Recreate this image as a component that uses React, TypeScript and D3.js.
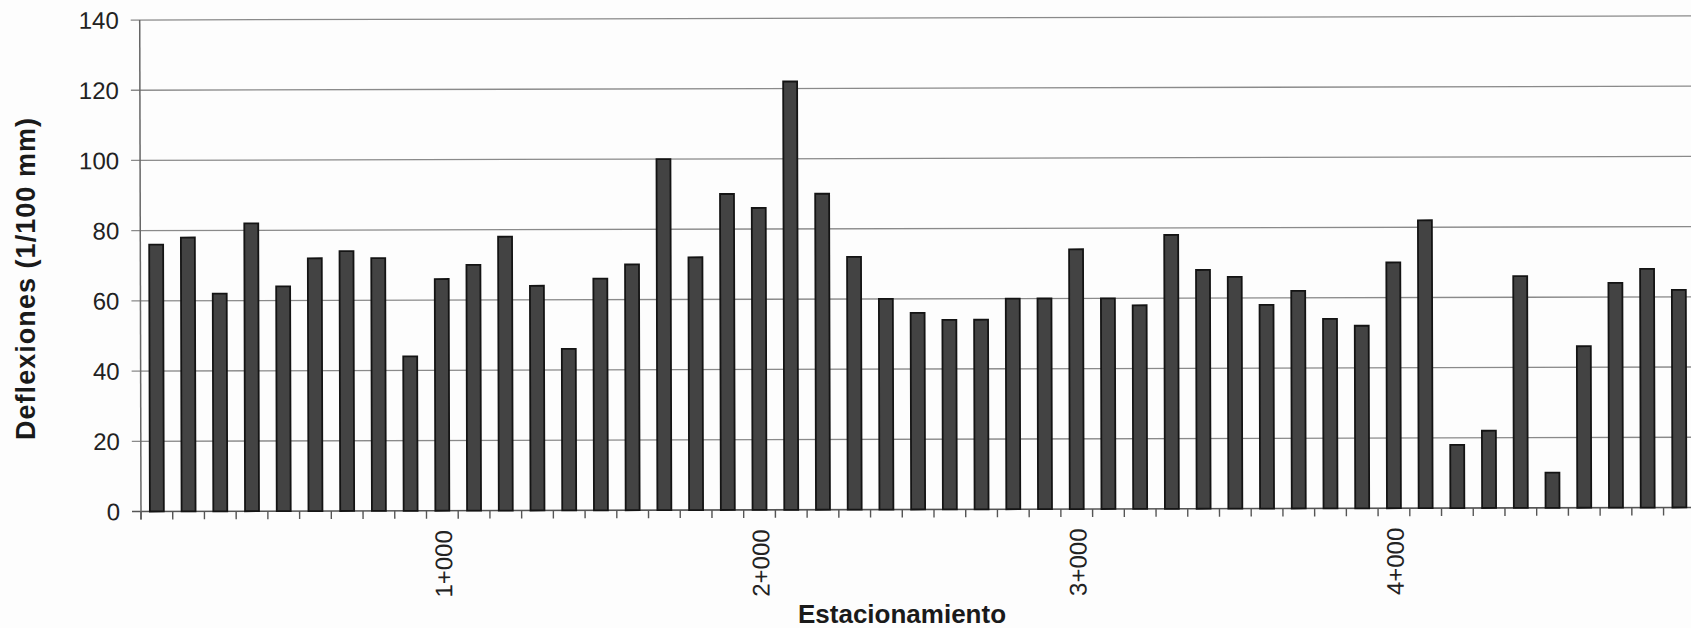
import React from "react";
import * as d3 from "d3";

// Deflection readings per station (1/100 mm), every 100 m starting at 0+100
const stations: string[] = Array.from({ length: 49 }, (_, i) => {
  const m = (i + 1) * 100;
  return `${Math.floor(m / 1000)}+${String(m % 1000).padStart(3, "0")}`;
});
const deflections: number[] = [
  76, 78, 62, 82, 64, 72, 74, 72, 44, 66,
  70, 78, 64, 46, 66, 70, 100, 72, 90, 86,
  122, 90, 72, 60, 56, 54, 54, 60, 60, 74,
  60, 58, 78, 68, 66, 58, 62, 54, 52, 70,
  82, 18, 22, 66, 10, 46, 64, 68, 62,
];
const yTicks: number[] = [0, 20, 40, 60, 80, 100, 120, 140];
const labelledStations: string[] = ["1+000", "2+000", "3+000", "4+000"];

const W = 1691;
const H = 628;
const left = 141;
const bottom = 511.5;
const top = 20;
const step = 31.72;

export default function App() {
  const x = d3
    .scaleBand<string>()
    .domain(stations)
    .range([left, left + step * stations.length])
    .paddingInner(0.56)
    .paddingOuter(0.28);
  const y = d3.scaleLinear().domain([0, 140]).range([bottom, top]);
  const font = "'Liberation Sans', Arial, sans-serif";
  const boundaries = d3.range(stations.length + 1).map((i) => left + i * step);

  return (
    <svg
      width={W}
      height={H}
      style={{ position: "absolute", left: 0, top: 0, background: "#fdfdfd" }}
      fontFamily={font}
    >
      <g transform={`rotate(-0.15, ${left}, ${bottom})`}>
        {/* horizontal gridlines with left ticks */}
        {yTicks.map((t) => (
          <line
            key={`g${t}`}
            x1={left - 9}
            x2={W + 10}
            y1={y(t)}
            y2={y(t)}
            stroke={t === 0 ? "#555" : "#8a8a8a"}
            strokeWidth={t === 0 ? 1.6 : 1.3}
          />
        ))}
        {yTicks.map((t) => (
          <text
            key={`yl${t}`}
            x={120}
            y={y(t)}
            dy="0.36em"
            textAnchor="end"
            fontSize={24}
            fill="#222"
          >
            {t}
          </text>
        ))}
        {/* bars */}
        {deflections.map((v, i) => (
          <rect
            key={`b${i}`}
            x={x(stations[i])!}
            y={y(v)}
            width={x.bandwidth()}
            height={bottom - y(v)}
            fill="#434343"
            stroke="#141414"
            strokeWidth={1.8}
          />
        ))}
        {/* value axis */}
        <line x1={left} x2={left} y1={top} y2={bottom + 8} stroke="#666" strokeWidth={1.5} />
        {/* category ticks */}
        {boundaries.map((bx, i) => (
          <line
            key={`t${i}`}
            x1={bx}
            x2={bx}
            y1={bottom}
            y2={bottom + 8}
            stroke="#555"
            strokeWidth={1.4}
          />
        ))}
        {/* station labels */}
        {labelledStations.map((s) => {
          const cx = x(s)! + x.bandwidth() / 2;
          return (
            <text
              key={s}
              transform={`translate(${cx + 1}, 531) rotate(-90)`}
              dy="0.36em"
              textAnchor="end"
              fontSize={24}
              fill="#222"
            >
              {s}
            </text>
          );
        })}
      </g>
      <text
        x={902}
        y={623}
        textAnchor="middle"
        fontSize={26}
        fontWeight="bold"
        fill="#1a1a1a"
      >
        Estacionamiento
      </text>
      <text
        transform="translate(25, 279) rotate(-90)"
        dy="0.36em"
        textAnchor="middle"
        fontSize={27}
        fontWeight="bold"
        fill="#1a1a1a"
        textLength={322}
        lengthAdjust="spacing"
      >
        Deflexiones (1/100 mm)
      </text>
    </svg>
  );
}
